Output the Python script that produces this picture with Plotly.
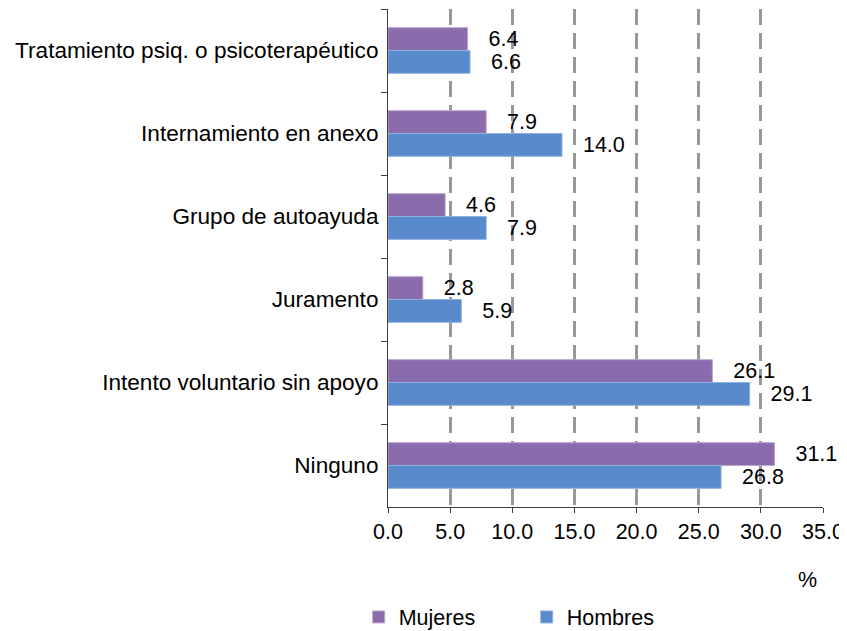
import plotly.graph_objects as go

categories = [
    "Tratamiento psiq. o psicoterapéutico",
    "Internamiento en anexo",
    "Grupo de autoayuda",
    "Juramento",
    "Intento voluntario sin apoyo",
    "Ninguno",
]
mujeres = [6.4, 7.9, 4.6, 2.8, 26.1, 31.1]
hombres = [6.6, 14.0, 7.9, 5.9, 29.1, 26.8]
x_ticks = [0, 5, 10, 15, 20, 25, 30, 35]

FONT = "Liberation Sans, Arial, sans-serif"
PAD = "\u00a0\u00a0\u00a0"

fig = go.Figure()
fig.add_trace(go.Bar(
    name="Mujeres", y=categories, x=mujeres, orientation="h",
    marker=dict(color="#8A6CAC", line=dict(color="#B8A5D0", width=1)),
    text=[PAD + f"{v:.1f}" for v in mujeres], textposition="outside",
    textfont=dict(family=FONT, size=21.5, color="#000000"),
    constraintext="none", cliponaxis=False,
))
fig.add_trace(go.Bar(
    name="Hombres", y=categories, x=hombres, orientation="h",
    marker=dict(color="#598BCC", line=dict(color="#8DB1E0", width=1)),
    text=[PAD + f"{v:.1f}" for v in hombres], textposition="outside",
    textfont=dict(family=FONT, size=21.5, color="#000000"),
    constraintext="none", cliponaxis=False,
))

fig.update_layout(
    width=839, height=623,
    margin=dict(l=380, r=24, t=1, b=124, autoexpand=False),
    paper_bgcolor="white", plot_bgcolor="white",
    barmode="group", bargap=0.45, bargroupgap=0,
    font=dict(family=FONT, size=21.5, color="#000000"),
    showlegend=True,
    legend=dict(
        orientation="h", xref="container", yref="container",
        x=0.418, xanchor="left", y=0.0225, yanchor="middle",
        font=dict(family=FONT, size=21.5), entrywidth=123, entrywidthmode="pixels",
        traceorder="normal",
    ),
    xaxis=dict(
        range=[0, 35], tickvals=x_ticks, ticktext=[f"{v:.1f}" for v in x_ticks],
        showgrid=True, gridcolor="#999999", gridwidth=2.5, griddash="16px,8px",
        showline=True, linecolor="#404040", linewidth=1,
        ticks="outside", ticklen=5, tickcolor="#404040",
        tickfont=dict(family=FONT, size=21.5), zeroline=False, automargin=False,
    ),
    yaxis=dict(
        autorange="reversed", showgrid=False,
        showline=True, linecolor="#404040", linewidth=1,
        ticks="outside", ticklen=6, tickcolor="#404040", tickson="boundaries",
        tickfont=dict(family=FONT, size=22.6), ticklabelstandoff=4, automargin=False,
    ),
    annotations=[dict(
        text="%", xref="paper", yref="paper", x=0.9655, y=-0.1466,
        xanchor="center", yanchor="middle", showarrow=False,
        font=dict(family=FONT, size=21.5),
    )],
)

fig.write_html("out.html")
